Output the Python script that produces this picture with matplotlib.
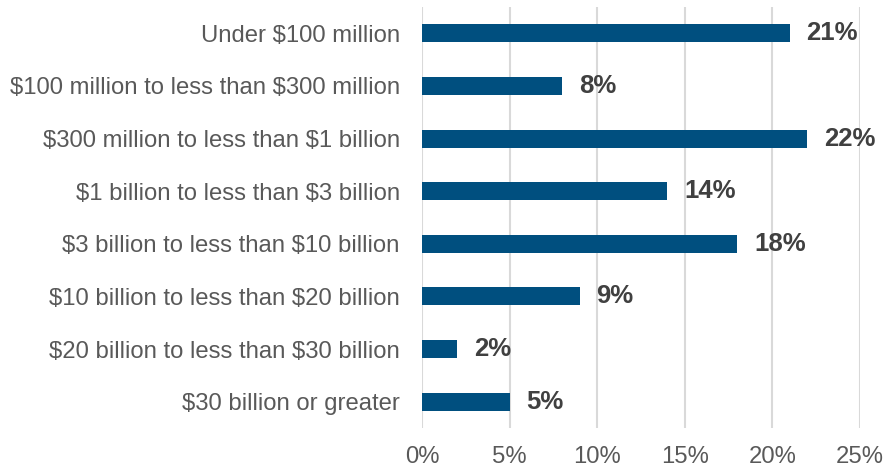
import matplotlib.pyplot as plt
from matplotlib.ticker import FuncFormatter

# asset size bands and share of respondents (%)
categories = [
    "Under $100 million",
    "$100 million to less than $300 million",
    "$300 million to less than $1 billion",
    "$1 billion to less than $3 billion",
    "$3 billion to less than $10 billion",
    "$10 billion to less than $20 billion",
    "$20 billion to less than $30 billion",
    "$30 billion or greater",
]
shares = [21, 8, 22, 14, 18, 9, 2, 5]
xticks = [0, 5, 10, 15, 20, 25]

plt.rcParams['font.family'] = ['Liberation Sans', 'DejaVu Sans']
plt.rcParams['text.parse_math'] = False

fig = plt.figure(figsize=(8.88, 4.70), dpi=100)
ax = fig.add_axes([0.4752, 0.0894, 0.4933, 0.8956])

pos = list(range(len(categories)))
ax.barh(pos, shares, height=0.34, color='#004f7f', zorder=3)

for y, v in zip(pos, shares):
    ax.annotate(f"{v}%", xy=(v, y), xytext=(12, 0), textcoords='offset points',
                va='center', ha='left', fontsize=18.5, fontweight='bold',
                color='#404040')

ax.set_ylim(len(categories) - 0.5, -0.5)
ax.set_xlim(0, 25)
ax.set_xticks(xticks)
ax.xaxis.set_major_formatter(FuncFormatter(lambda x, _: f"{x:.0f}%"))
ax.set_yticks(pos)
ax.set_yticklabels(categories)

ax.tick_params(axis='both', length=0, labelsize=17.2, labelcolor='#595959')
ax.tick_params(axis='y', pad=16)
ax.tick_params(axis='x', pad=13)
ax.grid(axis='x', color='#d9d9d9', linewidth=1.5, zorder=0)
for s in ax.spines.values():
    s.set_visible(False)

fig.savefig('out.png', dpi=100)
